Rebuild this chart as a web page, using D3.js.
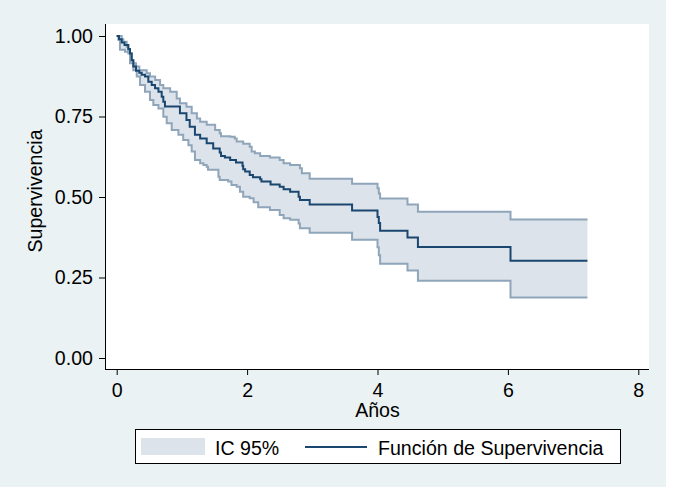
<!DOCTYPE html>
<html>
<head>
<meta charset="utf-8">
<script src="https://cdnjs.cloudflare.com/ajax/libs/d3/7.8.5/d3.min.js"></script>
<style>
	body { margin: 0; padding: 0; background: #FFFFFF; }
	text { font-family: "Liberation Sans", Arial, sans-serif; fill: #000000; }
</style>
</head>
<body>
<div id="chart"></div>
<script>

///////////////////////////////////////////////////////////////////////////
///////////////////////////////// Data ////////////////////////////////////
///////////////////////////////////////////////////////////////////////////

//Kaplan-Meier estimate (years, survival)
var survTime = [0, 0.035, 0.077, 0.12, 0.178, 0.204, 0.23, 0.255, 0.296, 0.347, 0.383, 0.434, 0.485, 0.537, 0.588, 0.64, 0.69, 0.715, 0.74,
		0.97, 1.07, 1.12, 1.2, 1.28, 1.38, 1.48, 1.58, 1.6, 1.66, 1.74, 1.83, 1.93, 1.94, 1.97, 2.04, 2.09, 2.2, 2.22, 2.36, 2.5, 2.56, 2.66,
		2.79, 2.81, 2.96, 3.61, 4.0, 4.02, 4.04, 4.46, 4.62, 6.04],
	survValue = [1, 0.99, 0.98, 0.972, 0.96, 0.946, 0.925, 0.905, 0.892, 0.886, 0.88, 0.874, 0.858, 0.848, 0.838, 0.827, 0.811, 0.796, 0.781,
		0.76, 0.739, 0.718, 0.693, 0.682, 0.667, 0.651, 0.638, 0.627, 0.623, 0.615, 0.607, 0.596, 0.586, 0.579, 0.568, 0.561, 0.555, 0.548, 0.539, 0.532, 0.524, 0.516,
		0.501, 0.491, 0.477, 0.458, 0.438, 0.419, 0.395, 0.374, 0.345, 0.302];

//Upper bound of the 95% CI
var upperTime = [0, 0.077, 0.102, 0.153, 0.178, 0.23, 0.255, 0.296, 0.347, 0.46, 0.51, 0.59, 0.665, 0.715, 0.82, 0.92, 0.97, 1.07, 1.15,
		1.23, 1.28, 1.38, 1.51, 1.58, 1.6, 1.74, 1.81, 1.84, 1.94, 2.04, 2.07, 2.12, 2.2, 2.35, 2.5, 2.56, 2.66, 2.81, 2.84, 2.96,
		3.61, 4.0, 4.02, 4.04, 4.46, 4.62, 6.04],
	upperValue = [1, 0.99, 0.982, 0.967, 0.946, 0.925, 0.915, 0.905, 0.894, 0.884, 0.874, 0.863, 0.848, 0.838, 0.827, 0.806, 0.791, 0.78, 0.76,
		0.744, 0.734, 0.724, 0.708, 0.698, 0.689, 0.687, 0.682, 0.672, 0.665, 0.656, 0.641, 0.636, 0.627, 0.623, 0.615, 0.605, 0.599, 0.589, 0.574, 0.557,
		0.541, 0.527, 0.511, 0.495, 0.477, 0.454, 0.43];

//Lower bound of the 95% CI
var lowerTime = [0, 0.025, 0.05, 0.127, 0.204, 0.255, 0.307, 0.358, 0.434, 0.51, 0.562, 0.64, 0.715, 0.767, 0.844, 0.946, 1.02, 1.1, 1.15,
		1.2, 1.28, 1.33, 1.38, 1.4, 1.56, 1.58, 1.71, 1.76, 1.84, 1.89, 1.94, 2.04, 2.1, 2.17, 2.35, 2.5, 2.56, 2.66, 2.79, 2.81, 2.96,
		3.61, 4.0, 4.02, 4.04, 4.46, 4.62, 6.04],
	lowerValue = [1, 0.988, 0.957, 0.951, 0.915, 0.894, 0.874, 0.848, 0.827, 0.801, 0.786, 0.775, 0.749, 0.729, 0.708, 0.693, 0.677, 0.661, 0.641,
		0.615, 0.605, 0.599, 0.594, 0.585, 0.563, 0.553, 0.548, 0.537, 0.532, 0.516, 0.501, 0.496, 0.484, 0.468, 0.46, 0.444, 0.434, 0.429, 0.418, 0.403, 0.389,
		0.367, 0.344, 0.319, 0.293, 0.272, 0.24, 0.188];

var lastTime = 7.22, //end of follow-up
	xTicks = [0, 2, 4, 6, 8],
	yTicks = [0, 0.25, 0.5, 0.75, 1],
	legendLabels = ["IC 95%", "Función de Supervivencia"];

///////////////////////////////////////////////////////////////////////////
///////////////////////////// Set up the SVG //////////////////////////////
///////////////////////////////////////////////////////////////////////////

var width = 673,
	height = 494,
	navy = "#1A476F",
	bandFill = "#DDE3EA",
	bandLine = "#8FA5BA",
	fontSize = "19.6px";

var svg = d3.select("#chart").append("svg")
	.attr("width", width)
	.attr("height", height);

//Graph region and plot region
svg.append("rect")
	.attr("x", 0).attr("y", 0)
	.attr("width", 666).attr("height", 487)
	.style("fill", "#EAF2F3");
svg.append("rect")
	.attr("x", 105).attr("y", 24)
	.attr("width", 544).attr("height", 345)
	.style("fill", "#FFFFFF");

var x = d3.scaleLinear().domain([0, 8]).range([116.7, 638.3]),
	y = d3.scaleLinear().domain([0, 1]).range([358, 36]);

///////////////////////////////////////////////////////////////////////////
////////////////////////////// Build series ///////////////////////////////
///////////////////////////////////////////////////////////////////////////

function toSteps(times, values) {
	var pts = times.map(function(t, i) { return {t: t, v: values[i]}; });
	pts.push({t: lastTime, v: values[values.length - 1]});
	return pts;
}

var survSteps = toSteps(survTime, survValue),
	upperSteps = toSteps(upperTime, upperValue),
	lowerSteps = toSteps(lowerTime, lowerValue);

//Value of a step function at time t
var bisect = d3.bisector(function(d) { return d.t; }).right;
function stepAt(steps, t) {
	return steps[Math.max(0, bisect(steps, t) - 1)].v;
}

//Band on the union of all the change times
var bandTimes = Array.from(new Set(upperTime.concat(lowerTime, [lastTime]))).sort(d3.ascending);
var bandData = bandTimes.map(function(t) {
	return {t: t, lo: stepAt(lowerSteps, t), hi: stepAt(upperSteps, t)};
});

var area = d3.area()
	.curve(d3.curveStepAfter)
	.x(function(d) { return x(d.t); })
	.y0(function(d) { return y(d.lo); })
	.y1(function(d) { return y(d.hi); });

var line = d3.line()
	.curve(d3.curveStepAfter)
	.x(function(d) { return x(d.t); })
	.y(function(d) { return y(d.v); });

///////////////////////////////////////////////////////////////////////////
/////////////////////////////// Draw the plot /////////////////////////////
///////////////////////////////////////////////////////////////////////////

svg.append("path")
	.datum(bandData)
	.attr("d", area)
	.style("fill", bandFill)
	.style("stroke", "none");

[upperSteps, lowerSteps].forEach(function(s) {
	svg.append("path")
		.datum(s)
		.attr("d", line)
		.style("fill", "none")
		.style("stroke", bandLine)
		.style("stroke-width", 2);
});

svg.append("path")
	.datum(survSteps)
	.attr("d", line)
	.style("fill", "none")
	.style("stroke", navy)
	.style("stroke-width", 2);

///////////////////////////////////////////////////////////////////////////
////////////////////////////////// Axes ///////////////////////////////////
///////////////////////////////////////////////////////////////////////////

var yAxis = svg.append("g")
	.attr("transform", "translate(105,0)")
	.call(d3.axisLeft(y).tickValues(yTicks).tickFormat(d3.format(".2f")).tickSize(6).tickPadding(6));
yAxis.select(".domain").attr("d", "M0.5,24V369.5");

var xAxis = svg.append("g")
	.attr("transform", "translate(0,369)")
	.call(d3.axisBottom(x).tickValues(xTicks).tickFormat(d3.format("d")).tickSize(6).tickPadding(8));
xAxis.select(".domain").attr("d", "M105,0.5H649");

svg.selectAll(".tick text").style("font-size", fontSize).style("font-family", "'Liberation Sans', Arial, sans-serif").style("fill", "#000");
svg.selectAll(".domain, .tick line").style("stroke", "#000");

//Axis titles
svg.append("text")
	.attr("transform", "translate(42,191) rotate(-90)")
	.style("text-anchor", "middle")
	.style("font-size", fontSize)
	.text("Supervivencia");

svg.append("text")
	.attr("x", x(4))
	.attr("y", 417)
	.style("text-anchor", "middle")
	.style("font-size", fontSize)
	.text("Años");

///////////////////////////////////////////////////////////////////////////
///////////////////////////////// Legend //////////////////////////////////
///////////////////////////////////////////////////////////////////////////

var legend = svg.append("g").attr("transform", "translate(135,429)");

legend.append("rect")
	.attr("x", 0.5).attr("y", 0.5)
	.attr("width", 485).attr("height", 34)
	.style("fill", "#FFFFFF")
	.style("stroke", "#000")
	.style("stroke-width", 1);

legend.append("rect")
	.attr("x", 6).attr("y", 9)
	.attr("width", 64).attr("height", 17)
	.style("fill", bandFill);
legend.append("text")
	.attr("x", 80).attr("y", 26)
	.style("font-size", fontSize)
	.text(legendLabels[0]);

legend.append("line")
	.attr("x1", 170).attr("x2", 232)
	.attr("y1", 18).attr("y2", 18)
	.style("stroke", navy)
	.style("stroke-width", 2);
legend.append("text")
	.attr("x", 243).attr("y", 26)
	.style("font-size", fontSize)
	.text(legendLabels[1]);

</script>
</body>
</html>
